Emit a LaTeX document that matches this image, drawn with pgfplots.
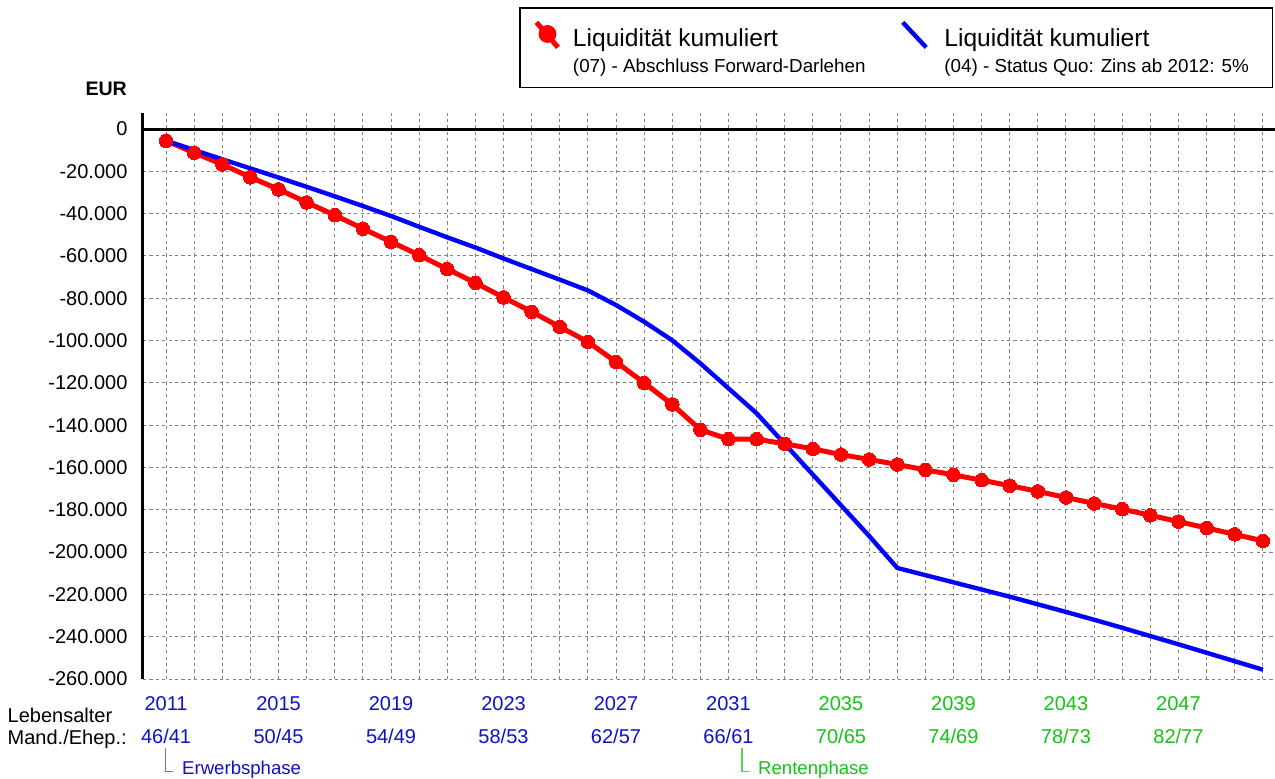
\documentclass[border=0pt]{standalone}
\usepackage{pgfplots}
\pgfplotsset{compat=1.18}
\usepackage{pgfplotstable}
\usepackage{fontspec}
\setmainfont{Liberation Sans}
\definecolor{tb}{RGB}{15,15,205}
\definecolor{tg}{RGB}{20,195,20}
\definecolor{tbl}{RGB}{110,110,230}
\definecolor{tgl}{RGB}{90,210,90}
\definecolor{gridgray}{RGB}{130,130,130}

\pgfplotstableread{
year value
2011 -5500
2012 -11200
2013 -16700
2014 -22800
2015 -28500
2016 -34700
2017 -40700
2018 -47100
2019 -53300
2020 -59600
2021 -66200
2022 -72700
2023 -79600
2024 -86400
2025 -93500
2026 -100600
2027 -110100
2028 -120000
2029 -130200
2030 -142200
2031 -146600
2032 -146600
2033 -148800
2034 -151200
2035 -153900
2036 -156200
2037 -158600
2038 -161100
2039 -163500
2040 -166000
2041 -168600
2042 -171300
2043 -174200
2044 -177000
2045 -179700
2046 -182600
2047 -185600
2048 -188600
2049 -191600
2050 -194700
}\forward

\pgfplotstableread{
year value
2011 -5500
2012 -9900
2013 -14300
2014 -18600
2015 -22900
2016 -27300
2017 -31800
2018 -36400
2019 -41100
2020 -46200
2021 -51200
2022 -56000
2023 -61200
2024 -66200
2025 -71200
2026 -76300
2027 -83200
2028 -91100
2029 -99900
2030 -110800
2031 -122600
2032 -134400
2033 -148900
2034 -163400
2035 -177900
2036 -192400
2037 -207500
2038 -210900
2039 -214300
2040 -217700
2041 -221100
2042 -224700
2043 -228300
2044 -232000
2045 -235800
2046 -239700
2047 -243600
2048 -247600
2049 -251600
2050 -255600
}\statusquo

\begin{document}
\begin{tikzpicture}
\begin{axis}[
  at={(0,0)}, anchor=south west,
  scale only axis, width=566pt, height=283pt,
  xmin=2010.18, xmax=2050.43, ymin=-260000, ymax=7600,
  axis x line=bottom, axis y line=left,
  axis line style={-},
  x axis line style={draw=none},
  y axis line style={-, line width=1.5pt, black},
  scaled y ticks=false, scaled x ticks=false,
  xtick={2011,2012,...,2050},
  xticklabels={
    {\textcolor{tb}{2011}\\\textcolor{tb}{46/41}},{},{},{},
    {\textcolor{tb}{2015}\\\textcolor{tb}{50/45}},{},{},{},
    {\textcolor{tb}{2019}\\\textcolor{tb}{54/49}},{},{},{},
    {\textcolor{tb}{2023}\\\textcolor{tb}{58/53}},{},{},{},
    {\textcolor{tb}{2027}\\\textcolor{tb}{62/57}},{},{},{},
    {\textcolor{tb}{2031}\\\textcolor{tb}{66/61}},{},{},{},
    {\textcolor{tg}{2035}\\\textcolor{tg}{70/65}},{},{},{},
    {\textcolor{tg}{2039}\\\textcolor{tg}{74/69}},{},{},{},
    {\textcolor{tg}{2043}\\\textcolor{tg}{78/73}},{},{},{},
    {\textcolor{tg}{2047}\\\textcolor{tg}{82/77}},{},{},{}},
  ytick={-260000,-240000,...,-20000},
  yticklabels={-260.000,-240.000,-220.000,-200.000,-180.000,-160.000,-140.000,-120.000,-100.000,-80.000,-60.000,-40.000,-20.000},
  extra y ticks={0},
  extra y tick labels={0},
  extra y tick style={major grid style={solid, black, line width=1.5pt}},
  grid=major,
  major grid style={gridgray, line width=0.5pt, dash pattern=on 1.6pt off 1.6pt},
  major tick length=0pt, minor tick length=0pt,
  xticklabel style={align=center, anchor=north, inner sep=0pt, yshift=-8.35pt, font=\fontsize{10}{16.65}\selectfont},
  yticklabel style={anchor=east, inner sep=0pt, xshift=-7.6pt, font=\fontsize{10}{12}\selectfont},
  legend columns=2,
  legend style={at={(axis description cs:0.33304,1.18551)}, anchor=north west,
    draw=black, line width=0.75pt, inner sep=0pt, outer sep=0pt,
    nodes={inner sep=0pt, outer sep=0pt, text depth=20.65pt},
    cells={anchor=base west},
    /tikz/every even column/.style={column sep=0pt},
    /tikz/every odd column/.style={column sep=0pt}},
]
\addplot[red, line width=2.5pt, mark=*, mark size=3.4pt, mark options={solid, fill=red, draw=red, line width=0pt},
  legend image code/.code={
    \path (0pt,0pt) (24pt,0pt);
    \draw[red, line width=2.5pt] (7pt,12pt) -- (17.75pt,-0.5pt);
    \fill[red] (12.5pt,6.2pt) circle (3.2pt);
  }] table[x=year, y=value] {\forward};
\addlegendentry{\parbox[t]{158pt}{\raggedright\rule{0pt}{19.2pt}\fontsize{12.3}{14}\selectfont Liquidität kumuliert\par\fontsize{9.4}{13}\selectfont (07) - Abschluss Forward-Darlehen}}
\addplot[blue, line width=2.2pt, no marks,
  legend image code/.code={
    \path (0pt,0pt) (25.5pt,0pt);
    \draw[blue, line width=2.2pt] (5.8pt,12pt) -- (17.5pt,-0.5pt);
  }] table[x=year, y=value] {\statusquo};
\addlegendentry{\parbox[t]{164pt}{\raggedright\rule{0pt}{19.2pt}\fontsize{12.3}{14}\selectfont Liquidität kumuliert\par\fontsize{9.4}{13}\selectfont (04) - Status Quo: Zins ab 2012: 5\%}}
\end{axis}
\node[anchor=base east, inner sep=0pt, font=\bfseries\fontsize{9.8}{11}\selectfont] at (-7.85pt,291.5pt) {EUR};
\node[anchor=base west, inner sep=0pt, font=\fontsize{10}{12}\selectfont] at (-67.85pt,-21.85pt) {Lebensalter};
\node[anchor=base west, inner sep=0pt, font=\fontsize{10}{12}\selectfont] at (-67.85pt,-32.5pt) {Mand./Ehep.:};
\draw[tbl, line width=0.6pt] (11.4pt,-34.5pt) -- (11.4pt,-46.3pt) -- (15.2pt,-46.3pt);
\node[anchor=base west, inner sep=0pt, text=tb, font=\fontsize{9.3}{11}\selectfont] at (19.4pt,-47.5pt) {Erwerbsphase};
\draw[tgl, line width=0.6pt] (299.5pt,-34.5pt) -- (299.5pt,-46.3pt) -- (303.3pt,-46.3pt);
\node[anchor=base west, inner sep=0pt, text=tg, font=\fontsize{9.3}{11}\selectfont] at (307.4pt,-47.5pt) {Rentenphase};
\pgfresetboundingbox
\path (-71.5pt,-49.5pt) rectangle (566pt,339.5pt);
\end{tikzpicture}
\end{document}
